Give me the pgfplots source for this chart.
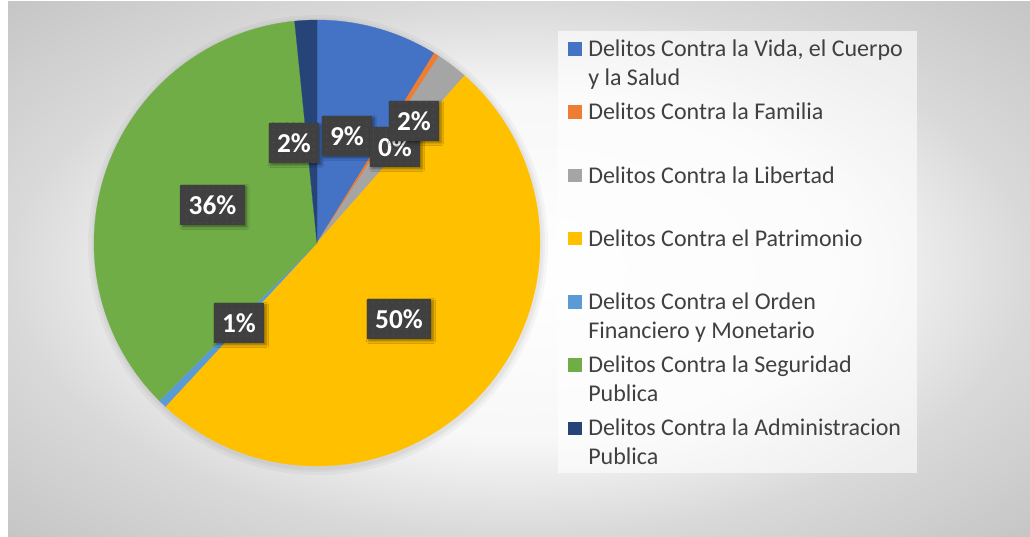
\documentclass[border=0pt]{standalone}
\usepackage{fontspec}
\setmainfont{Carlito}
\usepackage{pgfplots}
\pgfplotsset{compat=1.18}
\usetikzlibrary{patterns.meta,shadows.blur}
\definecolor{cBlue}{HTML}{4472C4}
\definecolor{cOrange}{HTML}{ED7D31}
\definecolor{cGray}{HTML}{A5A5A5}
\definecolor{cYellow}{HTML}{FFC000}
\definecolor{cLBlue}{HTML}{5B9BD5}
\definecolor{cGreen}{HTML}{70AD47}
\definecolor{cDBlue}{HTML}{264478}
\definecolor{lblgray}{HTML}{404040}
\definecolor{lbldot}{HTML}{555555}
\definecolor{legtext}{HTML}{404040}
\pgfdeclareradialshading{bgshade}{\pgfpoint{0bp}{0bp}}{%
  color(0bp)=(white);
  color(16bp)=(white!97!black);
  color(25bp)=(white!85!black);
  color(36bp)=(white!77!black);
  color(50bp)=(white!77!black)}
\tikzset{
  lbl/.style={preaction={fill=lblgray, blur shadow={shadow xshift=1.5pt, shadow yshift=-1.5pt, shadow blur steps=6, shadow opacity=45}},
    pattern={Dots[distance=5pt, radius=0.45pt]}, pattern color=lbldot,
    text=white, font=\bfseries\fontsize{20.5pt}{21pt}\selectfont,
    minimum height=30pt, inner xsep=6.2pt, inner ysep=0pt},
  leg/.style={anchor=base west, inner sep=0pt, text=legtext, font=\fontsize{18pt}{21.75pt}\selectfont},
}
% slice shares (percent), clockwise from 12 o'clock:
% Vida 8.8, Familia 0.4, Libertad 2.3, Patrimonio 50.4, Orden Fin. 0.6, Seguridad 35.9, Administracion 1.6
\begin{document}
\begin{tikzpicture}
\begin{axis}[
  x=0.75pt, y=0.75pt,
  xmin=0, xmax=1030, ymin=0, ymax=536,
  hide axis, clip=false, scale only axis,
]
% background
\fill[white] (axis cs:0,0) rectangle (axis cs:1030,536);
\shade[shading=bgshade] (axis cs:8,0) rectangle (axis cs:1030,534);
% soft pie shadow
\fill[black, opacity=0.03] (axis cs:318,291) circle[radius=230*0.75pt];
\fill[black, opacity=0.03] (axis cs:318,291) circle[radius=227*0.75pt];
\fill[black, opacity=0.03] (axis cs:318,291) circle[radius=225*0.75pt];
% slices (angles: 90 - 3.6 * cumulative percent)
\addplot[fill=cBlue, draw=cBlue, line width=0.2pt, domain={90-3.6*8.8}:{90-3.6*0}, samples=120, variable=\t]
  ({317+223*cos(\t)},{293+223*sin(\t)}) -- (axis cs:317,293) -- cycle;
\addplot[fill=cOrange, draw=cOrange, line width=0.2pt, domain={90-3.6*9.2}:{90-3.6*8.8}, samples=10, variable=\t]
  ({317+223*cos(\t)},{293+223*sin(\t)}) -- (axis cs:317,293) -- cycle;
\addplot[fill=cGray, draw=cGray, line width=0.2pt, domain={90-3.6*11.5}:{90-3.6*9.2}, samples=20, variable=\t]
  ({317+223*cos(\t)},{293+223*sin(\t)}) -- (axis cs:317,293) -- cycle;
\addplot[fill=cYellow, draw=cYellow, line width=0.2pt, domain={90-3.6*61.9}:{90-3.6*11.5}, samples=240, variable=\t]
  ({317+223*cos(\t)},{293+223*sin(\t)}) -- (axis cs:317,293) -- cycle;
\addplot[fill=cLBlue, draw=cLBlue, line width=0.2pt, domain={90-3.6*62.5}:{90-3.6*61.9}, samples=10, variable=\t]
  ({317+223*cos(\t)},{293+223*sin(\t)}) -- (axis cs:317,293) -- cycle;
\addplot[fill=cGreen, draw=cGreen, line width=0.2pt, domain={90-3.6*98.4}:{90-3.6*62.5}, samples=200, variable=\t]
  ({317+223*cos(\t)},{293+223*sin(\t)}) -- (axis cs:317,293) -- cycle;
\addplot[fill=cDBlue, draw=cDBlue, line width=0.2pt, domain={90-3.6*100}:{90-3.6*98.4}, samples=15, variable=\t]
  ({317+223*cos(\t)},{293+223*sin(\t)}) -- (axis cs:317,293) -- cycle;
% data labels
\node[lbl] at (axis cs:294,393) {2\%};
\node[lbl] at (axis cs:347,400) {9\%};
\node[lbl] at (axis cs:395,389) {0\%};
\node[lbl] at (axis cs:414,415) {2\%};
\node[lbl] at (axis cs:212.5,331) {36\%};
\node[lbl] at (axis cs:239,213) {1\%};
\node[lbl] at (axis cs:399,217) {50\%};
% legend
\fill[white, opacity=0.6] (axis cs:558,63) rectangle (axis cs:917,505);
\fill[cBlue]   (axis cs:568.3,480.3) rectangle (axis cs:581.7,493.7);
\node[leg] at (axis cs:588,479.3) {Delitos Contra la Vida, el Cuerpo};
\node[leg] at (axis cs:588,450.3) {y la Salud};
\fill[cOrange] (axis cs:568.3,417.1) rectangle (axis cs:581.7,430.5);
\node[leg] at (axis cs:588,416.1) {Delitos Contra la Familia};
\fill[cGray]   (axis cs:568.3,353.9) rectangle (axis cs:581.7,367.3);
\node[leg] at (axis cs:588,352.9) {Delitos Contra la Libertad};
\fill[cYellow] (axis cs:568.3,290.7) rectangle (axis cs:581.7,304.1);
\node[leg] at (axis cs:588,289.7) {Delitos Contra el Patrimonio};
\fill[cLBlue]  (axis cs:568.3,227.5) rectangle (axis cs:581.7,240.9);
\node[leg] at (axis cs:588,226.5) {Delitos Contra el Orden};
\node[leg] at (axis cs:588,197.5) {Financiero y Monetario};
\fill[cGreen]  (axis cs:568.3,164.3) rectangle (axis cs:581.7,177.7);
\node[leg] at (axis cs:588,163.3) {Delitos Contra la Seguridad};
\node[leg] at (axis cs:588,134.3) {Publica};
\fill[cDBlue]  (axis cs:568.3,101.1) rectangle (axis cs:581.7,114.5);
\node[leg] at (axis cs:588,100.1) {Delitos Contra la Administracion};
\node[leg] at (axis cs:588,71.1) {Publica};
\end{axis}
\end{tikzpicture}
\end{document}
